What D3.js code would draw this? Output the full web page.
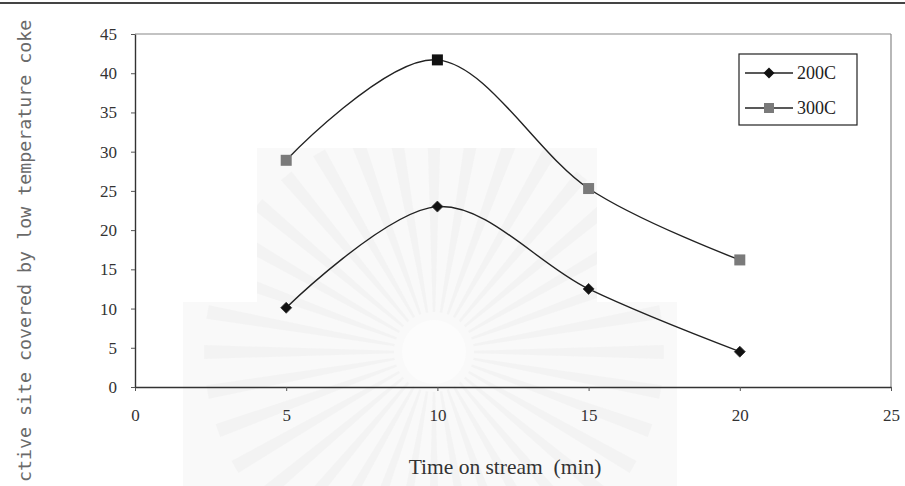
<!DOCTYPE html>
<html>
<head>
<meta charset="utf-8">
<script src="https://cdn.jsdelivr.net/npm/d3@7"></script>
<style>
  html, body { margin: 0; padding: 0; background: #fff; }
  svg { display: block; }
</style>
</head>
<body>
<svg id="chart" width="905" height="486"></svg>
<script>
// Time on stream (min)
const times = [5, 10, 15, 20];
// Coke coverage for each reaction temperature
const series200C = [10.1, 23.0, 12.5, 4.5];
const series300C = [28.9, 41.7, 25.3, 16.2];
const seriesNames = ["200C", "300C"];
const xTicks = [0, 5, 10, 15, 20, 25];
const yTicks = [0, 5, 10, 15, 20, 25, 30, 35, 40, 45];

const svg = d3.select("#chart");
const W = 905, H = 486;
const m = { left: 135, right: 891, top: 34, bottom: 387 };

const x = d3.scaleLinear().domain([0, 25]).range([m.left, m.right]);
const y = d3.scaleLinear().domain([0, 45]).range([m.bottom, m.top]);

// faint background print (light panels with a sunburst)
const bg = svg.append("g");
const clip = svg.append("defs").append("clipPath").attr("id", "wm");
const panels = [
  { x0: 257, y0: 148, x1: 597, y1: 302 },
  { x0: 183, y0: 302, x1: 677, y1: 486 }
];
panels.forEach(p => {
  bg.append("rect").attr("x", p.x0).attr("y", p.y0)
    .attr("width", p.x1 - p.x0).attr("height", p.y1 - p.y0)
    .attr("fill", "#f9f9f9");
  clip.append("rect").attr("x", p.x0).attr("y", p.y0)
    .attr("width", p.x1 - p.x0).attr("height", p.y1 - p.y0);
});
const rays = bg.append("g").attr("clip-path", "url(#wm)");
const cx = 434, cy = 352;
d3.range(36).forEach(i => {
  const a = i / 36 * 2 * Math.PI;
  const a0 = a - 0.03, a1 = a + 0.03;
  const r0 = 40, r1 = 230;
  rays.append("path")
    .attr("d", `M${cx + r0 * Math.cos(a0)},${cy + r0 * Math.sin(a0)}L${cx + r1 * Math.cos(a0)},${cy + r1 * Math.sin(a0)}L${cx + r1 * Math.cos(a1)},${cy + r1 * Math.sin(a1)}L${cx + r0 * Math.cos(a1)},${cy + r0 * Math.sin(a1)}Z`)
    .attr("fill", "#efefef").attr("opacity", 0.55);
});
rays.append("circle").attr("cx", cx).attr("cy", cy).attr("r", 32).attr("fill", "#fcfcfc");

// page rule at the top
svg.append("line").attr("x1", 0).attr("x2", W).attr("y1", 3).attr("y2", 3)
  .attr("stroke", "#444").attr("stroke-width", 2);

// plot area frame (top and right)
svg.append("line").attr("x1", m.left).attr("x2", m.right).attr("y1", m.top).attr("y2", m.top)
  .attr("stroke", "#888").attr("stroke-width", 1.2);
svg.append("line").attr("x1", m.right).attr("x2", m.right).attr("y1", m.top).attr("y2", m.bottom)
  .attr("stroke", "#888").attr("stroke-width", 1.2);

const serif = "'Liberation Serif', 'Times New Roman', serif";

// axes
const xAxis = svg.append("g").attr("transform", `translate(0,${m.bottom})`)
  .call(d3.axisBottom(x).tickValues(xTicks).tickSize(4).tickPadding(25).tickSizeOuter(0));
const yAxis = svg.append("g").attr("transform", `translate(${m.left},0)`)
  .call(d3.axisLeft(y).tickValues(yTicks).tickSize(4).tickPadding(14).tickSizeOuter(0));
[xAxis, yAxis].forEach(g => {
  g.select(".domain").attr("stroke", "#333").attr("stroke-width", 1.4);
  g.selectAll(".tick line").attr("stroke", "#555");
  g.selectAll(".tick text").attr("font-family", serif).attr("font-size", 17).attr("fill", "#333");
});
xAxis.selectAll(".tick text").attr("dy", "0.32em");

// axis titles
svg.append("text").attr("x", 505).attr("y", 474).attr("text-anchor", "middle")
  .attr("font-family", serif).attr("font-size", 21.5).attr("fill", "#333")
  .attr("xml:space", "preserve").text("Time on stream  (min)");
svg.append("text").attr("transform", "translate(31,482) rotate(-90)")
  .attr("font-family", "'DejaVu Sans Mono', monospace").attr("font-size", 18.3)
  .attr("fill", "#6a6a6a").text("ctive site covered by low temperature coke");

// series
const line = d3.line().x(d => x(d[0])).y(d => y(d[1])).curve(d3.curveCatmullRom.alpha(0));
const data200 = times.map((t, i) => [t, series200C[i]]);
const data300 = times.map((t, i) => [t, series300C[i]]);

[data200, data300].forEach(d => {
  svg.append("path").datum(d).attr("d", line)
    .attr("fill", "none").attr("stroke", "#222").attr("stroke-width", 1.4);
});

const diamond = (cx, cy, r) => `M${cx},${cy - r}L${cx + r},${cy}L${cx},${cy + r}L${cx - r},${cy}Z`;
svg.append("g").selectAll("path").data(data200).join("path")
  .attr("d", d => diamond(x(d[0]), y(d[1]), 5.5))
  .attr("fill", "#111").attr("stroke", "#333").attr("stroke-width", 0.8);
svg.append("g").selectAll("rect").data(data300).join("rect")
  .attr("x", d => x(d[0]) - 5.5).attr("y", d => y(d[1]) - 5.5)
  .attr("width", 11).attr("height", 11)
  .attr("fill", d => d[0] === 10 ? "#111" : "#7a7a7a");

// legend
const lg = svg.append("g");
lg.append("rect").attr("x", 739).attr("y", 54).attr("width", 118).attr("height", 71)
  .attr("fill", "#fff").attr("stroke", "#222").attr("stroke-width", 1.2);
const rows = [73, 108];
seriesNames.forEach((name, i) => {
  const ry = rows[i];
  lg.append("line").attr("x1", 745).attr("x2", 793).attr("y1", ry).attr("y2", ry)
    .attr("stroke", "#222").attr("stroke-width", 1.3);
  if (i === 0) {
    lg.append("path").attr("d", diamond(769, ry, 5.5)).attr("fill", "#111");
  } else {
    lg.append("rect").attr("x", 764).attr("y", ry - 5).attr("width", 10).attr("height", 10).attr("fill", "#7a7a7a");
  }
  lg.append("text").attr("x", 797).attr("y", ry).attr("dy", "0.35em")
    .attr("font-family", serif).attr("font-size", 18).attr("fill", "#222").text(name);
});
</script>
</body>
</html>
